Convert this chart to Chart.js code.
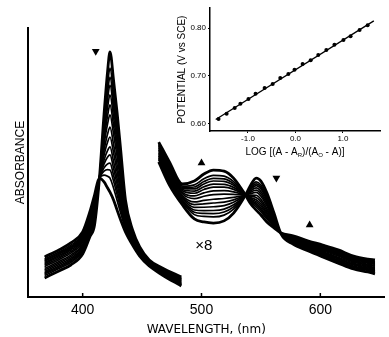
<!DOCTYPE html>
<html>
<head>
<meta charset="utf-8">
<script src="https://cdn.jsdelivr.net/npm/chart.js@4.4.0/dist/chart.umd.min.js"></script>
<style>
  html, body { margin: 0; padding: 0; background: #fff; }
  #wrap { position: relative; width: 389px; height: 337px; }
  #mainChart { position: absolute; left: 0; top: 0; }
  #insetChart { position: absolute; left: 160px; top: 0; }
</style>
</head>
<body>
<div id="wrap">
  <canvas id="mainChart" width="389" height="337"></canvas>
  <canvas id="insetChart" width="229" height="165"></canvas>
</div>
<script>
// Soret region: sharp starting spectrum and broad final spectrum
const soretWl = [368, 380, 390, 400, 406, 410, 414, 418, 421, 423, 426, 429, 432, 436, 442, 448, 456, 467, 483];
const soretStart = [0.071, 0.097, 0.119, 0.160, 0.223, 0.268, 0.435, 0.680, 0.840, 0.911, 0.805, 0.684, 0.546, 0.361, 0.249, 0.186, 0.138, 0.108, 0.074];
const soretEnd = [0.149, 0.175, 0.201, 0.242, 0.316, 0.379, 0.442, 0.428, 0.405, 0.390, 0.361, 0.323, 0.286, 0.242, 0.193, 0.152, 0.115, 0.082, 0.041];

// visible region (drawn x8)
const visWl = [464, 473, 484, 494, 502, 510, 519, 527, 537, 541, 546, 550, 555, 561, 567, 577, 590, 602, 615, 628, 640, 646];
const visStart = [0.502, 0.416, 0.342, 0.290, 0.279, 0.275, 0.283, 0.312, 0.379, 0.413, 0.442, 0.431, 0.387, 0.312, 0.234, 0.197, 0.171, 0.149, 0.126, 0.104, 0.093, 0.086];
const visEnd = [0.576, 0.502, 0.420, 0.431, 0.457, 0.472, 0.468, 0.442, 0.379, 0.349, 0.323, 0.305, 0.279, 0.257, 0.238, 0.227, 0.208, 0.193, 0.175, 0.152, 0.141, 0.138];

// share of the starting spectrum in each recorded spectrum (from the nested Soret peaks)
const startShare = [1, 0.885, 0.821, 0.764, 0.693, 0.622, 0.551, 0.464, 0.393, 0.322, 0.265, 0.207, 0.157, 0.10, 0];

const xTicks = [400, 500, 600];

// direction arrows
const arrowWl = [411, 500, 563, 591];
const arrowAbs = [0.914, 0.498, 0.442, 0.268];
const arrowRot = [180, 0, 180, 0];

// inset: Nernst plot
const logRatio = [-1.62, -1.45, -1.28, -1.16, -0.99, -0.84, -0.65, -0.48, -0.32, -0.15, -0.02, 0.15, 0.32, 0.48, 0.65, 0.82, 1.01, 1.16, 1.35, 1.52];
const potential = [0.610, 0.621, 0.633, 0.642, 0.652, 0.663, 0.675, 0.683, 0.696, 0.704, 0.713, 0.725, 0.733, 0.744, 0.754, 0.765, 0.775, 0.783, 0.796, 0.806];
const fitLog = [-1.68, 1.65];
const fitPot = [0.609, 0.815];
const insetXTicks = [-1, 0, 1];
const insetYTicks = [0.6, 0.7, 0.8];

const FONT = "'Liberation Sans', Arial, sans-serif";
const WIDE = "'DejaVu Sans', Arial, sans-serif";

function mixSpectrum(wl, a, b, f) {
  return wl.map((w, i) => ({ x: w, y: f * a[i] + (1 - f) * b[i] }));
}

const datasets = [];
startShare.forEach((f, k) => {
  const edge = (k === 0 || k === startShare.length - 1);
  const common = {
    borderColor: '#000',
    borderWidth: edge ? 2.8 : 1.7,
    pointRadius: 0,
    cubicInterpolationMode: 'monotone',
    fill: false
  };
  datasets.push({ ...common, data: mixSpectrum(soretWl, soretStart, soretEnd, f) });
  datasets.push({ ...common, data: mixSpectrum(visWl, visStart, visEnd, f) });
});

datasets.push({
  type: 'scatter',
  data: arrowWl.map((w, i) => ({ x: w, y: arrowAbs[i] })),
  pointStyle: 'triangle',
  pointRotation: arrowRot,
  pointRadius: 4.5,
  backgroundColor: '#000',
  borderColor: '#000',
  borderWidth: 0,
  showLine: false
});

const mainDecor = {
  id: 'mainDecor',
  afterDraw(chart) {
    const { ctx, scales: { x, y } } = chart;
    ctx.save();
    ctx.strokeStyle = '#000';
    ctx.lineWidth = 1.5;
    xTicks.forEach(v => {
      const px = x.getPixelForValue(v);
      ctx.beginPath();
      ctx.moveTo(px, y.bottom);
      ctx.lineTo(px, y.bottom - 4);
      ctx.stroke();
    });
    ctx.fillStyle = '#000';
    ctx.font = '15px ' + FONT;
    ctx.textAlign = 'center';
    ctx.textBaseline = 'middle';
    ctx.fillText('×8', x.getPixelForValue(502), y.getPixelForValue(0.19));
    ctx.restore();
  }
};

// inset x title with real subscripts
const insetTitle = {
  id: 'insetTitle',
  afterDraw(chart) {
    const { ctx, chartArea } = chart;
    const parts = [['LOG [(A - A', 0], ['R', 1], [')/(A', 0], ['O', 1], [' - A)]', 0]];
    const big = '10px ' + FONT, small = '6px ' + FONT;
    ctx.save();
    let w = 0;
    parts.forEach(([t, sub]) => { ctx.font = sub ? small : big; w += ctx.measureText(t).width; });
    let px = (chartArea.left + chartArea.right) / 2 - w / 2;
    const py = 152;
    ctx.fillStyle = '#000';
    ctx.textBaseline = 'middle';
    parts.forEach(([t, sub]) => {
      ctx.font = sub ? small : big;
      ctx.fillText(t, px, sub ? py + 3 : py);
      px += ctx.measureText(t).width;
    });
    ctx.restore();
  }
};

new Chart(document.getElementById('mainChart'), {
  type: 'line',
  data: { datasets },
  options: {
    responsive: false,
    animation: false,
    layout: { padding: { left: 0, right: 2, top: 28, bottom: 0 } },
    plugins: { legend: { display: false }, tooltip: { enabled: false } },
    scales: {
      x: {
        type: 'linear',
        min: 354,
        max: 654,
        afterBuildTicks: s => { s.ticks = xTicks.map(v => ({ value: v })); },
        afterFit: s => { s.height = 40; },
        grid: { display: false, drawTicks: false },
        border: { display: true, color: '#000', width: 2 },
        ticks: { color: '#000', font: { family: FONT, size: 14 }, padding: 5, maxRotation: 0 },
        title: {
          display: true, text: 'WAVELENGTH, (nm)', color: '#000',
          font: { family: WIDE, size: 12 }, padding: { top: 0, bottom: 0 }
        }
      },
      y: {
        min: 0,
        max: 1,
        afterFit: s => { s.width = 28; },
        grid: { display: false, drawTicks: false },
        border: { display: true, color: '#000', width: 2 },
        ticks: { display: false },
        title: {
          display: true, text: 'ABSORBANCE', color: '#000',
          font: { family: FONT, size: 12 }, padding: { top: 13, bottom: 0 }
        }
      }
    }
  },
  plugins: [mainDecor]
});

new Chart(document.getElementById('insetChart'), {
  type: 'scatter',
  data: {
    datasets: [
      {
        data: logRatio.map((v, i) => ({ x: v, y: potential[i] })),
        pointRadius: 2,
        backgroundColor: '#000',
        borderColor: '#000',
        borderWidth: 0
      },
      {
        type: 'line',
        data: fitLog.map((v, i) => ({ x: v, y: fitPot[i] })),
        borderColor: '#000',
        borderWidth: 1.3,
        pointRadius: 0
      }
    ]
  },
  options: {
    responsive: false,
    animation: false,
    layout: { padding: { left: 0, right: 9, top: 8, bottom: 0 } },
    plugins: { legend: { display: false }, tooltip: { enabled: false } },
    scales: {
      x: {
        type: 'linear',
        min: -1.8,
        max: 1.78,
        afterBuildTicks: s => { s.ticks = insetXTicks.map(v => ({ value: v })); },
        afterFit: s => { s.height = 34; },
        grid: { display: true, drawOnChartArea: false, drawTicks: true, tickLength: 2, color: '#000' },
        border: { display: true, color: '#000', width: 1.5 },
        ticks: { color: '#000', font: { family: FONT, size: 8 }, padding: 1, callback: v => v.toFixed(1) },
        title: { display: false }
      },
      y: {
        min: 0.585,
        max: 0.842,
        afterBuildTicks: s => { s.ticks = insetYTicks.map(v => ({ value: v })); },
        afterFit: s => { s.width = 50; },
        grid: { display: true, drawOnChartArea: false, drawTicks: true, tickLength: 2, color: '#000' },
        border: { display: true, color: '#000', width: 1.5 },
        ticks: { color: '#000', font: { family: FONT, size: 8 }, padding: 2, callback: v => v.toFixed(2) },
        title: {
          display: true, text: 'POTENTIAL (V vs SCE)', color: '#000',
          font: { family: FONT, size: 10 }, padding: { top: 16, bottom: 0 }
        }
      }
    }
  },
  plugins: [insetTitle]
});
</script>
</body>
</html>
